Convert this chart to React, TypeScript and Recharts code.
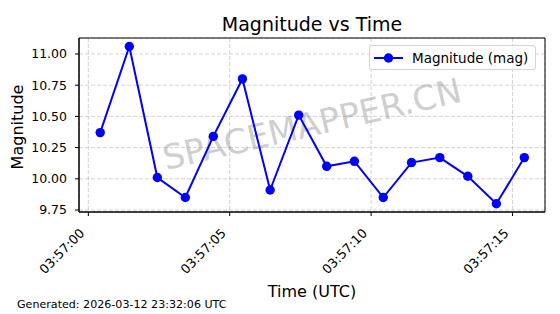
import {
  CartesianGrid,
  Legend,
  Line,
  LineChart,
  ReferenceArea,
  XAxis,
  YAxis,
} from "recharts";

// observation times (UTC) and measured magnitudes
const times = [
  "03:57:00.42", "03:57:01.45", "03:57:02.44", "03:57:03.43",
  "03:57:04.42", "03:57:05.45", "03:57:06.43", "03:57:07.44",
  "03:57:08.43", "03:57:09.41", "03:57:10.43", "03:57:11.43",
  "03:57:12.43", "03:57:13.42", "03:57:14.43", "03:57:15.42",
];
const magnitudes = [
  10.37, 11.06, 10.01, 9.85, 10.34, 10.8, 9.91, 10.51,
  10.1, 10.14, 9.85, 10.13, 10.17, 10.02, 9.8, 10.17,
];

const xTicks = [0, 5, 10, 15];
const yTicks = [9.75, 10.0, 10.25, 10.5, 10.75, 11.0];
const xDomain = [-0.33, 16.15];
const yDomain = [9.734, 11.128];

const baseTime = "03:57";
const font = "DejaVu Sans";

// seconds after 03:57:00
const toSeconds = (t: string) => {
  const [, m, s] = t.split(":");
  return (Number(m) - 57) * 60 + Number(s);
};

const fmtTime = (sec: number) =>
  `${baseTime}:${String(Math.round(sec)).padStart(2, "0")}`;

const chartData = times.map((t, i) => ({
  t: toSeconds(t),
  mag: magnitudes[i],
}));

const XTick = (props: any) => {
  const { x, y, payload } = props;
  const ax = x - 3;
  const ay = y + 18;
  return (
    <text
      x={ax}
      y={ay}
      transform={`rotate(-45 ${ax} ${ay})`}
      textAnchor="end"
      fontFamily={font}
      fontSize={12.8}
      fill="#000"
    >
      {fmtTime(payload.value)}
    </text>
  );
};

const LegendBox = () => (
  <div
    style={{
      width: 165,
      height: 23,
      border: "1px solid #d5d5d5",
      borderRadius: 3,
      background: "rgba(255,255,255,0.8)",
      display: "flex",
      alignItems: "center",
      fontFamily: font,
      fontSize: 13.5,
      color: "#000",
    }}
  >
    <svg width={42} height={23}>
      <line x1={4} y1={12} x2={33} y2={12} stroke="#0000ff" strokeWidth={2} />
      <circle cx={18.5} cy={12} r={4.7} fill="#0000ff" />
    </svg>
    <span>Magnitude (mag)</span>
  </div>
);

export default function App() {
  return (
    <div style={{ position: "absolute", left: 0, top: 0, background: "#fff" }}>
      <LineChart
        width={560}
        height={314}
        data={chartData}
        margin={{ top: 38, right: 15, bottom: 0, left: 0 }}
      >
        <CartesianGrid
          stroke="#b0b0b0"
          strokeOpacity={0.7}
          strokeDasharray="4 2"
          strokeWidth={0.8}
        />
        <XAxis
          dataKey="t"
          type="number"
          domain={xDomain}
          ticks={xTicks}
          height={102}
          tickSize={4}
          tickMargin={0}
          tick={<XTick />}
          stroke="#000"
          allowDataOverflow
        />
        <YAxis
          type="number"
          domain={yDomain}
          ticks={yTicks}
          width={79}
          tickSize={4}
          tickMargin={8}
          tickFormatter={(v: number) => v.toFixed(2)}
          tick={{ fill: "#000", fontSize: 12.5, fontFamily: font }}
          stroke="#000"
          allowDataOverflow
        />
        <ReferenceArea
          x1={xDomain[0]}
          x2={xDomain[1]}
          y1={yDomain[0]}
          y2={yDomain[1]}
          fill="none"
          stroke="#000"
          strokeWidth={1}
          fillOpacity={0}
        />
        <text
          x={312}
          y={124}
          transform="rotate(-13 312 124)"
          textAnchor="middle"
          dominantBaseline="central"
          fontFamily={font}
          fontSize={34}
          fill="#808080"
          fillOpacity={0.4}
        >
          SPACEMAPPER.CN
        </text>
        <Line
          dataKey="mag"
          stroke="#0000ff"
          strokeWidth={2}
          dot={{ r: 4.7, fill: "#0000ff", stroke: "#0000ff", strokeWidth: 0 }}
          activeDot={false}
          isAnimationActive={false}
        />
        <Legend
          layout="vertical"
          align="center"
          verticalAlign="middle"
          content={<LegendBox />}
          wrapperStyle={{ position: "absolute", left: 369, top: 45, width: "auto" }}
        />
        <text x={312} y={31} textAnchor="middle" fontFamily={font} fontSize={19} fill="#000">
          Magnitude vs Time
        </text>
        <text
          x={23}
          y={127}
          transform="rotate(-90 23 127)"
          textAnchor="middle"
          fontFamily={font}
          fontSize={16}
          fill="#000"
        >
          Magnitude
        </text>
        <text x={312} y={297} textAnchor="middle" fontFamily={font} fontSize={16} fill="#000">
          Time (UTC)
        </text>
        <text x={17} y={308} fontFamily={font} fontSize={11.1} fill="#000">
          Generated: 2026-03-12 23:32:06 UTC
        </text>
      </LineChart>
    </div>
  );
}
